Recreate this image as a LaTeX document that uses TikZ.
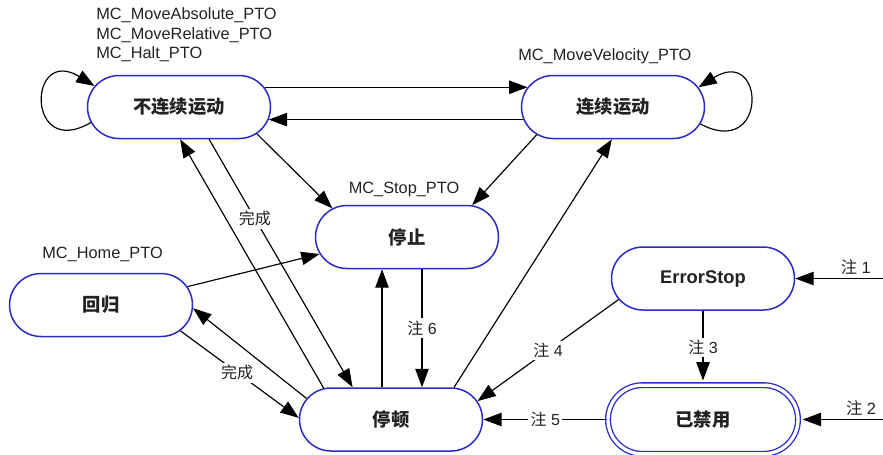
\documentclass[tikz,border=0pt]{standalone}
\usepackage{fontspec}
\setmainfont{Liberation Sans}
\newfontfamily\cjkfont{Noto Sans CJK SC}
\usetikzlibrary{positioning,arrows.meta,shapes.misc}
\definecolor{stBlue}{HTML}{2B2BC8}
\definecolor{stInk}{HTML}{222222}
\tikzset{
  state/.style={rounded rectangle, draw=stBlue, line width=0.9pt, fill=white,
                minimum width=109.8pt, minimum height=37.8pt, inner sep=0pt,
                font=\fontsize{11}{13}\selectfont\bfseries, text=stInk},
  final/.style={state, line width=0.8pt, double=white, double distance=2pt,
                minimum width=114pt, minimum height=41.2pt},
  flow/.style={-{Triangle[length=11pt,width=8pt]}, line width=0.7pt},
  % labels that sit ON an arrow: opaque, so the line is broken by the text
  onarrow/.style={font=\fontsize{9.6}{11}\selectfont, fill=white, inner sep=1.5pt,
                  text=stInk},
  lbl/.style={font=\fontsize{9.8}{11.7}\selectfont, inner sep=0pt, text=stInk},
}
\newcommand{\zh}[1]{{\cjkfont #1}}

\begin{document}
\begin{tikzpicture}[x=0.6pt, y=-0.6pt]
\useasboundingbox (0,0) rectangle (883,454);

%% ── the states ────────────────────────────────────────────────────────────
\node[state] (dis) at (179,107)   {\zh{不连续运动}};
\node[state] (con) at (613,107)   {\zh{连续运动}};
\node[state] (stp) at (407,237)   {\zh{停止}};
\node[state] (hom) at (101,305)   {\zh{回归}};
\node[state] (pau) at (391,419.5) {\zh{停顿}};
\node[state] (err) at (703,278.5) {ErrorStop};
\node[final] (dsb) at (703,419.5) {\zh{已禁用}};

%% ── function blocks ───────────────────────────────────────────────────────
\node[lbl, anchor=west, align=left] (movelbl) at (96,35)
  {MC\_MoveAbsolute\_PTO\\MC\_MoveRelative\_PTO\\MC\_Halt\_PTO};
\node[lbl, anchor=west] (vellbl) at (518,56) {MC\_MoveVelocity\_PTO};
\node[lbl] (stoplbl) at (404,189) {MC\_Stop\_PTO};
\node[lbl, anchor=west] (homelbl) at (42,254) {MC\_Home\_PTO};

%% ── transitions ───────────────────────────────────────────────────────────
\draw[flow] (dis.13) -- (con.167);
\draw[flow] (con.-172) -- (dis.-8);
\draw[flow] (dis.-19) -- (stp.159);
\draw[flow] (con.200) -- (stp.26);
\draw[flow] (hom.12) -- (stp.191);
\draw[flow] (pau.166) -- (hom.-2);
\draw[flow] (hom.-18) -- node[onarrow, pos=0.48] {\zh{完成}} (pau.179);
\draw[flow] (pau.155) -- (dis.-88);
\draw[flow] (dis.-47) -- node[onarrow, pos=0.32] {\zh{完成}} (pau.140);
\draw[flow] ([xshift=-5.4pt]pau.north) -- ([xshift=-5.4pt]pau.north |- stp.south);
\draw[flow] ([xshift=9pt]stp.south) --
  node[onarrow] {\zh{注} 6} ([xshift=9pt]stp.south |- pau.north);
\draw[flow] (pau.27) -- (con.268);
\draw[flow] (err.194) -- node[onarrow] {\zh{注} 4} (pau.12);
\draw[flow] (dsb.west) -- node[onarrow] {\zh{注} 5} (pau.east);
\draw[flow, shorten >=2.4pt] (err.south) -- node[onarrow] {\zh{注} 3} (dsb.north);

%% ── entries from outside ──────────────────────────────────────────────────
\coordinate (in1) at (883,278.5);
\coordinate (in2) at (883,419.5);
\draw[flow] (in1) -- node[lbl, above=2pt, pos=0.31] {\zh{注} 1} (err.east);
\draw[flow, shorten >=2.4pt] (in2) -- node[lbl, above=2pt, pos=0.26] {\zh{注} 2} (dsb.east);

%% ── self loops ────────────────────────────────────────────────────────────
\draw[flow] (dis.190) .. controls +(-65,38) and +(-67,-41) .. (dis.166);
\draw[flow] (con.-11) .. controls +(68,36) and +(67,-42) .. (con.13);

\end{tikzpicture}
\end{document}
